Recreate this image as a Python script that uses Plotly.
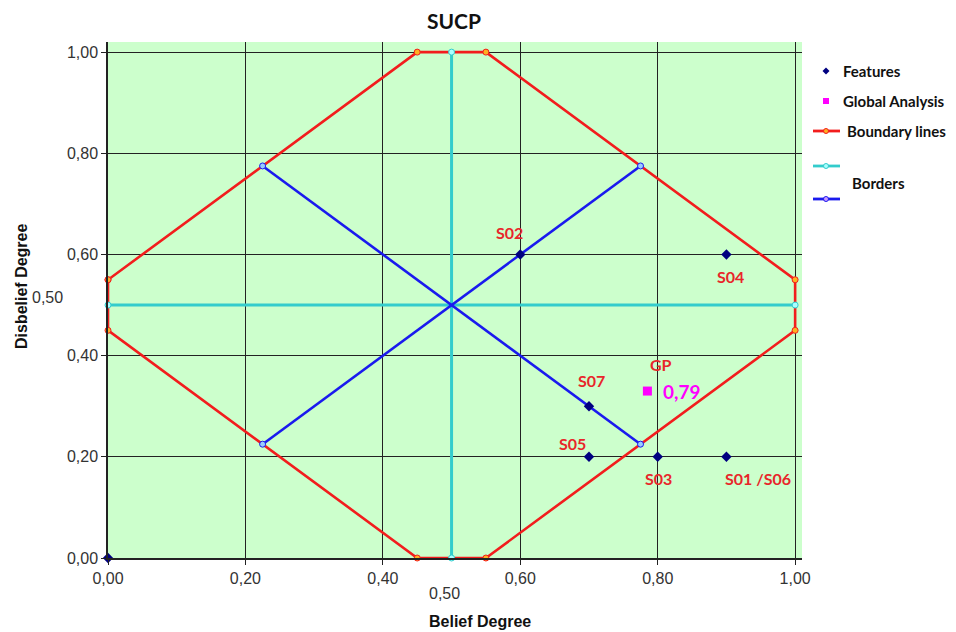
import plotly.graph_objects as go

# ---------------- data ----------------
feature_names = ["S00", "S02", "S04", "S07", "S05", "S03", "S01 /S06"]
feature_belief = [0.00, 0.60, 0.90, 0.70, 0.70, 0.80, 0.90]
feature_disbelief = [0.00, 0.60, 0.60, 0.30, 0.20, 0.20, 0.20]

gp_belief = [0.785]
gp_disbelief = [0.33]
gp_value_text = "0,79"

boundary_x = [0.00, 0.45, 0.55, 1.00, 1.00, 0.55, 0.45, 0.00, 0.00]
boundary_y = [0.55, 1.00, 1.00, 0.55, 0.45, 0.00, 0.00, 0.45, 0.55]

cyan_v_x = [0.50, 0.50]
cyan_v_y = [0.00, 1.00]
cyan_h_x = [0.00, 1.00]
cyan_h_y = [0.50, 0.50]

border1_x = [0.225, 0.775]
border1_y = [0.775, 0.225]
border2_x = [0.225, 0.775]
border2_y = [0.225, 0.775]

tick_vals = [0.0, 0.2, 0.4, 0.6, 0.8, 1.0]
tick_text = ["0,00", "0,20", "0,40", "0,60", "0,80", "1,00"]

# ---------------- styles ----------------
GREEN = "#ccffcc"
RED = "#f21d1d"
CYAN = "#33cccc"
BLUE = "#1a1aee"
NAVY = "#000080"
MAGENTA = "#ff00ff"
LABEL_RED = "#e8262a"
LABEL_FONT = "Lato"
TICK_FONT = "Liberation Sans"

# page offset (body margin) compensation
OFF = 8
W, H = 956 - OFF, 632 - OFF

fig = go.Figure()

fig.add_trace(go.Scatter(
    x=boundary_x, y=boundary_y, mode="lines+markers",
    line=dict(color=RED, width=2.6),
    marker=dict(symbol="circle", size=6, color="#ffb020", line=dict(color=RED, width=1)),
    showlegend=False, hoverinfo="skip", cliponaxis=False))

for xs, ys in [(cyan_v_x, cyan_v_y), (cyan_h_x, cyan_h_y)]:
    fig.add_trace(go.Scatter(
        x=xs, y=ys, mode="lines+markers",
        line=dict(color=CYAN, width=3),
        marker=dict(symbol="circle", size=6, color="#aaffff", line=dict(color=CYAN, width=1)),
        showlegend=False, hoverinfo="skip", cliponaxis=False))

for xs, ys in [(border1_x, border1_y), (border2_x, border2_y)]:
    fig.add_trace(go.Scatter(
        x=xs, y=ys, mode="lines+markers",
        line=dict(color=BLUE, width=2.6),
        marker=dict(symbol="circle", size=6, color="#99ccff", line=dict(color=BLUE, width=1)),
        showlegend=False, hoverinfo="skip"))

fig.add_trace(go.Scatter(
    x=feature_belief, y=feature_disbelief, mode="markers",
    marker=dict(symbol="diamond", size=8, color=NAVY),
    showlegend=False, text=feature_names, cliponaxis=False))

fig.add_trace(go.Scatter(
    x=gp_belief, y=gp_disbelief, mode="markers",
    marker=dict(symbol="square", size=9, color=MAGENTA),
    showlegend=False))

# point labels (offsets in px)
label_offsets = {
    "S02": (-11, 22), "S04": (4, -22), "S07": (3, 26), "S05": (-16, 13),
    "S03": (1, -22), "S01 /S06": (32, -22),
}
annotations = []
for name, bx, by in zip(feature_names, feature_belief, feature_disbelief):
    if name not in label_offsets:
        continue
    dx, dy = label_offsets[name]
    annotations.append(dict(x=bx, y=by, xref="x", yref="y", text=name, showarrow=False,
                            xshift=dx, yshift=dy,
                            font=dict(family=LABEL_FONT, size=16, color=LABEL_RED, weight="bold")))
annotations.append(dict(x=gp_belief[0], y=gp_disbelief[0], xref="x", yref="y", text="GP",
                        showarrow=False, xshift=14, yshift=27,
                        font=dict(family=LABEL_FONT, size=16, color=LABEL_RED, weight="bold")))
annotations.append(dict(x=gp_belief[0], y=gp_disbelief[0], xref="x", yref="y", text=gp_value_text,
                        showarrow=False, xshift=14, yshift=0, xanchor="left",
                        font=dict(family=LABEL_FONT, size=19, color=MAGENTA, weight="bold")))

# ---------------- positions given in reference pixels ----------------
L, R, T, B = 108, 802, 42, 558
def px(xp):
    return (xp - L) / (R - L)
def py(yp):
    return (B - yp) / (B - T)

# extra 0,50 tick labels
annotations.append(dict(x=px(444), y=py(593), xref="paper", yref="paper", text="0,50", showarrow=False,
                        xanchor="center", yanchor="middle",
                        font=dict(family=TICK_FONT, size=16, color="#333")))
annotations.append(dict(x=px(47), y=py(297), xref="paper", yref="paper", text="0,50", showarrow=False,
                        xanchor="center", yanchor="middle",
                        font=dict(family=TICK_FONT, size=16, color="#333")))

# axis titles
annotations.append(dict(x=px(480), y=py(621), xref="paper", yref="paper", text="<b>Belief Degree</b>",
                        showarrow=False, xanchor="center", yanchor="middle",
                        font=dict(family=TICK_FONT, size=16, color="#111")))
annotations.append(dict(x=px(21), y=py(287), xref="paper", yref="paper", text="<b>Disbelief Degree</b>",
                        showarrow=False, xanchor="center", yanchor="middle", textangle=-90,
                        font=dict(family=TICK_FONT, size=16, color="#111")))

# manual legend
shapes = []
leg_font = dict(family=LABEL_FONT, size=15, color="#111", weight="bold")
shapes.append(dict(type="path", xref="paper", yref="paper",
                   path=f"M {px(822.5)} {py(71)} L {px(826)} {py(67.5)} L {px(829.5)} {py(71)} L {px(826)} {py(74.5)} Z",
                   fillcolor=NAVY, line=dict(width=0)))
annotations.append(dict(x=px(841), y=py(71), xref="paper", yref="paper", text="Features",
                        xanchor="left", yanchor="middle", showarrow=False, font=leg_font))
shapes.append(dict(type="rect", xref="paper", yref="paper", x0=px(823), x1=px(829), y0=py(98), y1=py(104),
                   fillcolor=MAGENTA, line=dict(width=0)))
annotations.append(dict(x=px(841), y=py(101), xref="paper", yref="paper", text="Global Analysis",
                        xanchor="left", yanchor="middle", showarrow=False, font=leg_font))
for (yl, col, mfill, text, tx, ty) in [
        (131, RED, "#ffb020", "Boundary lines", 845, 131),
        (166, CYAN, "#aaffff", None, None, None),
        (199, BLUE, "#cc99ff", "Borders", 850, 183)]:
    shapes.append(dict(type="line", xref="paper", yref="paper", x0=px(813), x1=px(840), y0=py(yl), y1=py(yl),
                       line=dict(color=col, width=2.8)))
    shapes.append(dict(type="circle", xref="paper", yref="paper", x0=px(823.5), x1=px(828.5),
                       y0=py(yl + 2.5), y1=py(yl - 2.5), fillcolor=mfill, line=dict(color=col, width=1)))
    if text:
        annotations.append(dict(x=px(tx), y=py(ty), xref="paper", yref="paper", text=text,
                                xanchor="left", yanchor="middle", showarrow=False, font=leg_font))

# tiny stray marks at the right edge
for yy, col in [(383, RED), (415, CYAN), (447, BLUE)]:
    shapes.append(dict(type="rect", xref="paper", yref="paper", x0=px(949), x1=px(951),
                       y0=py(yy + 1), y1=py(yy - 1), fillcolor=col, line=dict(width=0)))

axis_common = dict(
    tickvals=tick_vals, ticktext=tick_text, showgrid=True, automargin=False,
    gridcolor="#222", gridwidth=1.3, zeroline=False, showline=True, linecolor="#222",
    linewidth=1.5, ticks="outside", ticklen=5, tickcolor="#222",
    tickfont=dict(family=TICK_FONT, size=16, color="#333"),
)

fig.update_layout(
    width=W, height=H,
    margin=dict(l=L - OFF, r=956 - R, t=T - OFF, b=632 - B),
    paper_bgcolor="white", plot_bgcolor=GREEN,
    title=dict(text="<b>SUCP</b>", x=(454 - OFF) / W, xanchor="center",
               y=1 - (22 - OFF) / H, yanchor="middle",
               font=dict(family=LABEL_FONT, size=21, color="#111")),
    xaxis=dict(range=[0, 1.01], **axis_common),
    yaxis=dict(range=[0, 1.02], **axis_common),
    annotations=annotations, shapes=shapes, showlegend=False,
)

fig.write_html("out.html")
